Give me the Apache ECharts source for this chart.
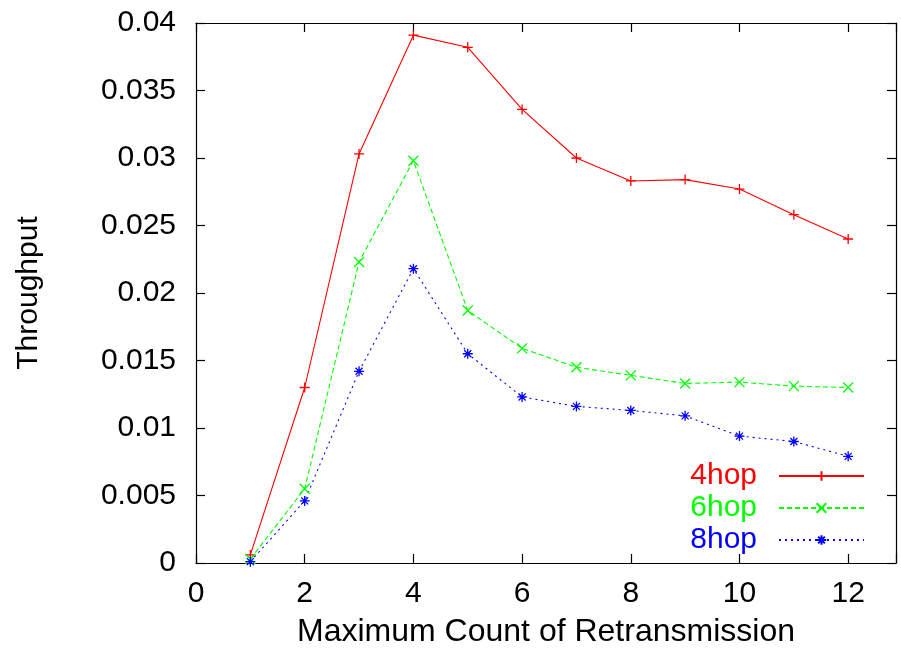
<!DOCTYPE html>
<html>
<head>
<meta charset="utf-8">
<script src="https://cdn.jsdelivr.net/npm/echarts@6/dist/echarts.min.js"></script>
<style>
html,body{margin:0;padding:0;background:#fff;}
#chart{width:901px;height:662px;}
</style>
</head>
<body>
<div id="chart"></div>
<script>
var retransmissions = [1, 2, 3, 4, 5, 6, 7, 8, 9, 10, 11, 12];
var hop4 = [0.0006, 0.0130, 0.0303, 0.0391, 0.0382, 0.0336, 0.0300, 0.0283, 0.0284, 0.0277, 0.0258, 0.0240];
var hop6 = [0.0003, 0.0055, 0.0223, 0.0298, 0.0187, 0.0159, 0.0145, 0.0139, 0.0133, 0.0134, 0.0131, 0.0130];
var hop8 = [0.0001, 0.0046, 0.0142, 0.0218, 0.0155, 0.0123, 0.0116, 0.0113, 0.0109, 0.0094, 0.0090, 0.0079];
var seriesNames = ['4hop', '6hop', '8hop'];
var xTickLabels = ['0', '2', '4', '6', '8', '10', '12'];
var yTickLabels = ['0', '0.005', '0.01', '0.015', '0.02', '0.025', '0.03', '0.035', '0.04'];

var FONT = '"Liberation Sans", Arial, Helvetica, sans-serif';
var colors = ['#ff0000', '#00ff00', '#0000ff'];
var symbols = [
  'path://M0,5L10,5M5,0L5,10',
  'path://M0,0L10,10M10,0L0,10',
  'path://M0,5L10,5M5,0L5,10M1.5,1.5L8.5,8.5M8.5,1.5L1.5,8.5'
];
var dashes = ['solid', [5, 3], [2, 4]];
var seriesData = [hop4, hop6, hop8];

function pairs(vals) {
  return retransmissions.map(function (x, i) { return [x, vals[i]]; });
}

var axisLineStyle = { color: '#000', width: 1.2 };

var chart = echarts.init(document.getElementById('chart'), null, { renderer: 'canvas' });
chart.setOption({
  animation: false,
  backgroundColor: '#fff',
  grid: { left: 196, right: 5, top: 23, bottom: 99, containLabel: false },
  legend: {
    orient: 'vertical',
    right: 31,
    top: 456,
    align: 'right',
    itemWidth: 85,
    itemHeight: 12,
    itemGap: 2,
    textStyle: { fontFamily: FONT, fontSize: 30, lineHeight: 30, padding: [0, 17, 0, 0] },
    data: seriesNames.map(function (n, i) {
      return { name: n, textStyle: { color: colors[i] } };
    })
  },
  xAxis: [{
    type: 'value',
    min: 0,
    max: 12.88,
    interval: 2,
    name: 'Maximum Count of Retransmission',
    nameLocation: 'middle',
    nameGap: 53,
    nameTextStyle: { fontFamily: FONT, fontSize: 32, color: '#000' },
    axisLine: { show: true, onZero: false, lineStyle: axisLineStyle },
    axisTick: { show: true, inside: true, length: 9, lineStyle: axisLineStyle },
    splitLine: { show: false },
    axisLabel: {
      fontFamily: FONT, fontSize: 30, color: '#000', margin: 16,
      formatter: function (v) {
        var s = String(Math.round(v));
        return (Math.abs(v - Math.round(v)) < 1e-6 && xTickLabels.indexOf(s) >= 0) ? s : '';
      }
    }
  }, {
    type: 'value',
    position: 'top',
    min: 0,
    max: 12.88,
    interval: 2,
    axisLine: { show: true, onZero: false, lineStyle: axisLineStyle },
    axisTick: { show: true, inside: true, length: 9, lineStyle: axisLineStyle },
    splitLine: { show: false },
    axisLabel: { show: false }
  }],
  yAxis: [{
    type: 'value',
    min: 0,
    max: 0.04,
    interval: 0.005,
    name: 'Throughput',
    nameLocation: 'middle',
    nameGap: 152,
    nameRotate: 90,
    nameTextStyle: { fontFamily: FONT, fontSize: 30, color: '#000' },
    axisLine: { show: true, onZero: false, lineStyle: axisLineStyle },
    axisTick: { show: true, inside: true, length: 9, lineStyle: axisLineStyle },
    splitLine: { show: false },
    axisLabel: {
      fontFamily: FONT, fontSize: 30, color: '#000', margin: 20,
      formatter: function (v) {
        var idx = Math.round(v / 0.005);
        return yTickLabels[idx] !== undefined ? yTickLabels[idx] : '';
      }
    }
  }, {
    type: 'value',
    position: 'right',
    min: 0,
    max: 0.04,
    interval: 0.005,
    axisLine: { show: true, onZero: false, lineStyle: axisLineStyle },
    axisTick: { show: true, inside: true, length: 9, lineStyle: axisLineStyle },
    splitLine: { show: false },
    axisLabel: { show: false }
  }],
  series: seriesNames.map(function (n, i) {
    return {
      name: n,
      type: 'line',
      xAxisIndex: 0,
      yAxisIndex: 0,
      data: pairs(seriesData[i]),
      symbol: symbols[i],
      symbolSize: 10,
      showAllSymbol: true,
      lineStyle: { color: colors[i], width: 1.1, type: dashes[i] },
      itemStyle: { color: 'rgba(0,0,0,0)', borderColor: colors[i], borderWidth: 1.3 },
      emphasis: { disabled: true }
    };
  })
});
</script>
</body>
</html>
